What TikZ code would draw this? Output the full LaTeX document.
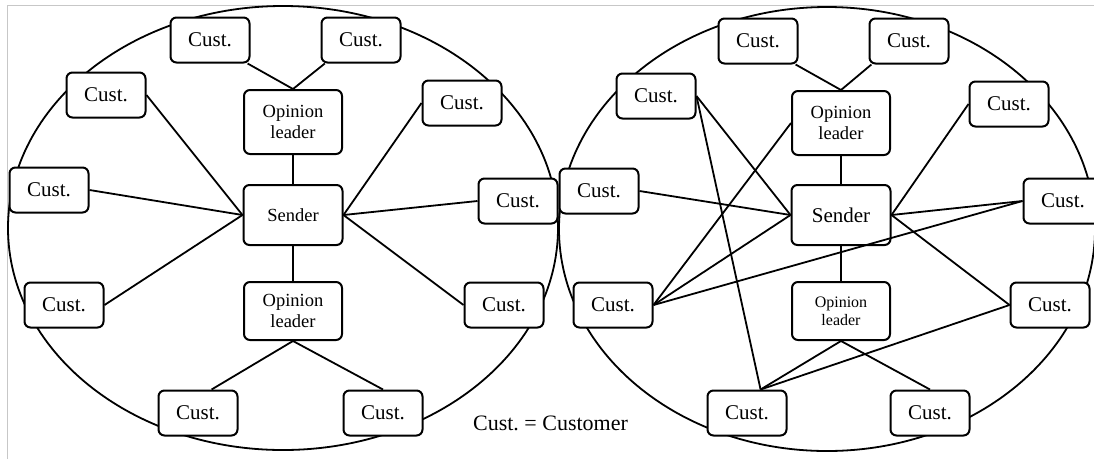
\documentclass[tikz,border=0pt]{standalone}
\usepackage{fontspec}
\setmainfont{Liberation Serif}
\frenchspacing
\begin{document}
\begin{tikzpicture}[x=1pt,y=-1pt,
  box/.style={draw=black,line width=2pt,rounded corners=6pt,fill=white,inner sep=0pt,align=center},
  cust/.style={box,minimum width=79pt,minimum height=45pt,font=\fontsize{21}{24}\selectfont},
  oleader/.style={box,minimum width=98pt,minimum height=64pt,font=\fontsize{18.5}{20.5}\selectfont},
  sendbox/.style={box,minimum width=99pt,minimum height=60pt},
  link/.style={line width=1.8pt},
  ring/.style={line width=1.8pt},
  frame/.style={draw=black!22,line width=0.8pt}]
\useasboundingbox (0,0) rectangle (1094,459);
\clip (0,0) rectangle (1094,459);
\fill[white] (0,0) rectangle (1094,459);
\draw[frame] (7,459) -- (7,5) -- (1094,5);

% ---------- left diagram ----------
\draw[ring] (283,228) ellipse [x radius=275, y radius=222];
\node[cust] (lTa) at (210,40) {Cust.};
\node[cust] (lTb) at (361,40) {Cust.};
\node[cust] (lUL) at (106,95) {Cust.};
\node[oleader] (lO1) at (293,122) {Opinion\\leader};
\node[cust] (lUR) at (462,103) {Cust.};
\node[cust] (lL) at (49,190) {Cust.};
\node[sendbox,font=\fontsize{18.5}{20}\selectfont] (lS) at (293,215) {Sender};
\node[cust] (lR) at (518,201) {Cust.};
\node[cust] (lLL) at (64,305) {Cust.};
\node[oleader,minimum height=58pt] (lO2) at (293,311) {Opinion\\leader};
\node[cust] (lLR) at (504,305) {Cust.};
\node[cust] (lBL) at (198,413) {Cust.};
\node[cust] (lBR) at (383,413) {Cust.};

\draw[link] (lTa.-32) -- (lO1.north);
\draw[link] (lTb.-147) -- (lO1.north);
\draw[link] (lO1.south) -- (lS.north);
\draw[link] (lUL.east) -- (lS.west);
\draw[link] (lL.east) -- (lS.west);
\draw[link] (lLL.east) -- (lS.west);
\draw[link] (lUR.west) -- (lS.east);
\draw[link] (lR.west) -- (lS.east);
\draw[link] (lLR.west) -- (lS.east);
\draw[link] (lS.south) -- (lO2.north);
\draw[link] (lO2.south) -- (lBL.60);
\draw[link] (lO2.south) -- (lBR.north);

% ---------- right diagram ----------
\draw[ring] (827,229) ellipse [x radius=268, y radius=222];
\node[cust] (rTa) at (758,41) {Cust.};
\node[cust] (rTb) at (909,41) {Cust.};
\node[cust] (rUL) at (656,96) {Cust.};
\node[oleader] (rO1) at (841,123) {Opinion\\leader};
\node[cust] (rUR) at (1009,104) {Cust.};
\node[cust] (rL) at (599,191) {Cust.};
\node[sendbox,font=\fontsize{21}{24}\selectfont] (rS) at (841,215) {Sender};
\node[cust] (rR) at (1063,201) {Cust.};
\node[cust] (rLL) at (613,305) {Cust.};
\node[oleader,minimum height=58pt,font=\fontsize{16}{18}\selectfont] (rO2) at (841,311) {Opinion\\leader};
\node[cust] (rLR) at (1050,305) {Cust.};
\node[cust] (rBL) at (747,413) {Cust.};
\node[cust] (rBR) at (930,413) {Cust.};

\draw[link] (rTa.-32) -- (rO1.north);
\draw[link] (rTb.-148) -- (rO1.north);
\draw[link] (rO1.south) -- (rS.north);
\draw[link] (rUL.east) -- (rS.west);
\draw[link] (rUL.east) -- (rBL.60);
\draw[link] (rL.east) -- (rS.west);
\draw[link] (rLL.east) -- (rS.west);
\draw[link] (rLL.east) -- (rO1.west);
\draw[link] (rLL.east) -- (rR.west);
\draw[link] (rUR.west) -- (rS.east);
\draw[link] (rR.west) -- (rS.east);
\draw[link] (rS.east) -- (rLR.west);
\draw[link] (rLR.west) -- (rBL.60);
\draw[link] (rS.south) -- (rO2.north);
\draw[link] (rO2.south) -- (rBL.60);
\draw[link] (rO2.south) -- (rBR.north);

% ---------- caption ----------
\node[font=\fontsize{22}{26}\selectfont,inner sep=0pt] (cap) at (550.5,423) {Cust. = Customer};
\end{tikzpicture}
\end{document}
